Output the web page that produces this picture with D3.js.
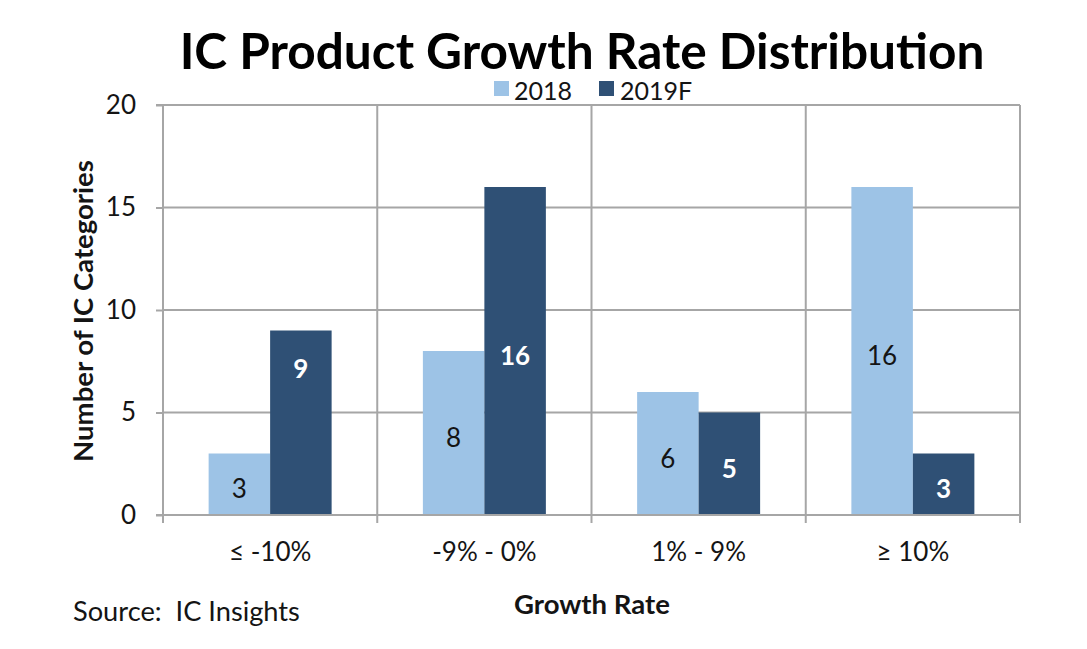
<!DOCTYPE html>
<html>
<head>
<meta charset="utf-8">
<script src="https://cdn.jsdelivr.net/npm/d3@7/dist/d3.min.js"></script>
<style>
  html, body { margin: 0; padding: 0; background: #fff; }
  svg { display: block; font-family: Lato, "Open Sans", sans-serif; }
</style>
</head>
<body>
<svg id="chart" width="1087" height="649"></svg>
<script>
// ---- data ----
const categories = ["≤ -10%", "-9% - 0%", "1% - 9%", "≥ 10%"];
const seriesNames = ["2018", "2019F"];
const values2018 = [3, 8, 6, 16];
const values2019F = [9, 16, 5, 3];
const yTicks = [0, 5, 10, 15, 20];
const colors = ["#9dc3e6", "#2f5075"];

const W = 1087, H = 649;
const margin = { left: 163, right: 67, top: 105, bottom: 134 };
const x0 = margin.left, x1 = W - margin.right;
const yTop = margin.top, yBot = H - margin.bottom;

const svg = d3.select("#chart");

const x = d3.scaleBand().domain(categories).range([x0, x1]).paddingInner(0).paddingOuter(0);
const xs = d3.scaleBand().domain(seriesNames).range([0, x.bandwidth()]).paddingInner(0).paddingOuter(0.742);
const y = d3.scaleLinear().domain([0, 20]).range([yBot, yTop]);

const gridColor = "#a6a6a6";
const textColor = "#141414";

// horizontal gridlines
svg.append("g")
  .selectAll("line").data(yTicks.filter(d => d > 0)).join("line")
  .attr("x1", x0).attr("x2", x1)
  .attr("y1", d => y(d)).attr("y2", d => y(d))
  .attr("stroke", gridColor).attr("stroke-width", 2);

// vertical gridlines at category boundaries + right border
const bounds = categories.slice(1).map(c => x(c)).concat([x1]);
svg.append("g")
  .selectAll("line").data(bounds).join("line")
  .attr("x1", d => d).attr("x2", d => d)
  .attr("y1", yTop).attr("y2", yBot)
  .attr("stroke", gridColor).attr("stroke-width", 2);

// bars
const rows = categories.map((c, i) => ({ cat: c, vals: [values2018[i], values2019F[i]] }));
const gBars = svg.append("g");
rows.forEach((r, ci) => {
  r.vals.forEach((v, si) => {
    const s = seriesNames[si];
    const bx = x(r.cat) + xs(s);
    gBars.append("rect")
      .attr("x", bx).attr("width", xs.bandwidth())
      .attr("y", y(v)).attr("height", y(0) - y(v))
      .attr("fill", colors[si]);
    // label (the 2019F "9" label sits near the top of its bar in the original)
    let ly = (y(v) + y(0)) / 2 + 4;
    if (si === 1 && ci === 0) ly = y(v) + 37;
    gBars.append("text")
      .attr("x", bx + xs.bandwidth() / 2).attr("y", ly)
      .attr("text-anchor", "middle").attr("dominant-baseline", "central")
      .attr("font-size", 26)
      .attr("font-weight", si === 1 ? "bold" : "normal")
      .attr("fill", si === 1 ? "#ffffff" : textColor)
      .text(v);
  });
});

// y axis
const yAxis = d3.axisLeft(y).tickValues(yTicks).tickSize(7).tickPadding(20);
const gy = svg.append("g").attr("transform", `translate(${x0},0)`).call(yAxis);
gy.select(".domain").attr("stroke", gridColor).attr("stroke-width", 2).attr("d", `M-7,${yTop}H0V${yBot}H-7`);
gy.selectAll(".tick line").attr("stroke", gridColor).attr("stroke-width", 2);
gy.selectAll(".tick text").attr("font-size", 26).attr("fill", textColor).attr("font-family", "Lato, 'Open Sans', sans-serif");

// x axis
const xAxis = d3.axisBottom(x).tickSize(0).tickPadding(28);
const gx = svg.append("g").attr("transform", `translate(0,${yBot})`).call(xAxis);
gx.select(".domain").attr("stroke", gridColor).attr("stroke-width", 2).attr("d", `M${x0},0H${x1}`);
gx.selectAll(".tick text").attr("font-size", 26).attr("fill", textColor).attr("font-family", "Lato, 'Open Sans', sans-serif");
// x tick marks at category boundaries
svg.append("g").selectAll("line").data([x0].concat(bounds)).join("line")
  .attr("x1", d => d).attr("x2", d => d)
  .attr("y1", yBot).attr("y2", yBot + 8)
  .attr("stroke", gridColor).attr("stroke-width", 2);

function fit(sel, target) {
  const n = sel.node();
  const fs = parseFloat(sel.attr("font-size"));
  const w = n.getComputedTextLength();
  sel.attr("font-size", fs * target / w);
}

// title
const title = svg.append("text")
  .attr("x", 582).attr("y", 69).attr("text-anchor", "middle")
  .attr("font-size", 48).attr("font-weight", "bold").attr("fill", "#000")
  .text("IC Product Growth Rate Distribution");
fit(title, 805);

// legend
const legend = svg.append("g");
const legendItems = [
  { name: seriesNames[0], sx: 494, tx: 514 },
  { name: seriesNames[1], sx: 599, tx: 620 }
];
legendItems.forEach((d, i) => {
  legend.append("rect").attr("x", d.sx).attr("y", 81).attr("width", 15).attr("height", 15).attr("fill", colors[i]);
  const t = legend.append("text").attr("x", d.tx).attr("y", 90).attr("dominant-baseline", "central")
    .attr("font-size", 25).attr("fill", textColor).text(d.name);
});

// axis titles
const yTitle = svg.append("text")
  .attr("transform", `translate(82,311) rotate(-90)`)
  .attr("text-anchor", "middle").attr("dominant-baseline", "central")
  .attr("font-size", 22).attr("font-weight", "bold").attr("fill", textColor)
  .text("Number of IC Categories");
fit(yTitle, 302);

const xTitle = svg.append("text")
  .attr("x", 592).attr("y", 603).attr("text-anchor", "middle").attr("dominant-baseline", "central")
  .attr("font-size", 22).attr("font-weight", "bold").attr("fill", textColor)
  .text("Growth Rate");
fit(xTitle, 156);

const src = svg.append("text")
  .attr("x", 73).attr("y", 610).attr("dominant-baseline", "central")
  .attr("font-size", 22).attr("fill", textColor)
  .attr("xml:space", "preserve").style("white-space", "pre")
  .text("Source:  IC Insights");
fit(src, 227);
</script>
</body>
</html>
